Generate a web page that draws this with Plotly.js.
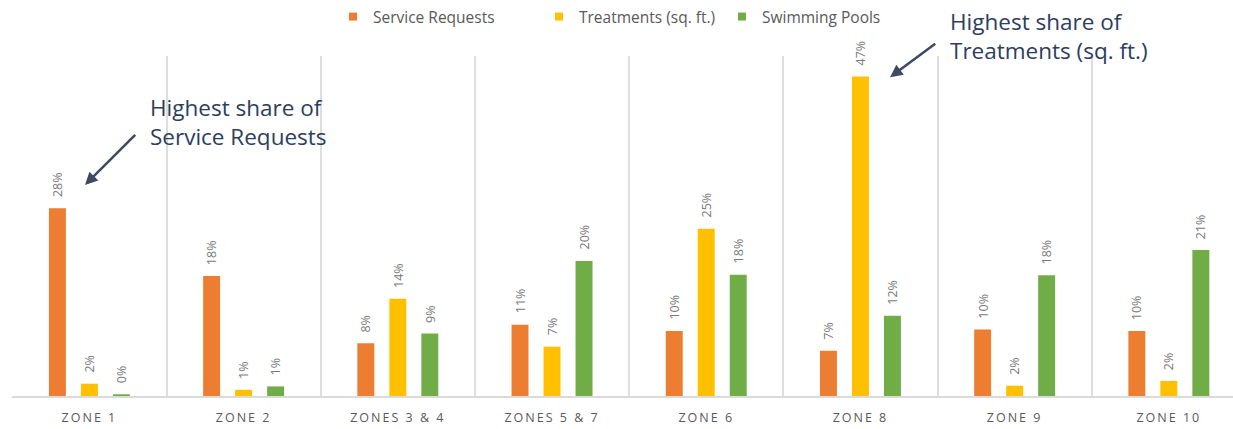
<!DOCTYPE html>
<html>
<head>
<meta charset="utf-8">
<script src="https://cdn.plot.ly/plotly-3.0.1.min.js"></script>
<style>
  html, body { margin: 0; padding: 0; background: #ffffff; }
  #chart { width: 1233px; height: 429px; }
  .xtick text { letter-spacing: 2px; }
</style>
</head>
<body>
<div id="chart"></div>
<script>
// ---- data ----
const zones = ["ZONE 1", "ZONE 2", "ZONES 3 & 4", "ZONES 5 & 7", "ZONE 6", "ZONE 8", "ZONE 9", "ZONE 10"];
const serviceRequests = [27.4, 17.5, 7.7, 10.4, 9.5, 6.6, 9.7, 9.5];
const treatments      = [1.8, 0.9, 14.2, 7.2, 24.4, 46.6, 1.5, 2.2];
const swimmingPools   = [0.25, 1.4, 9.1, 19.7, 17.7, 11.7, 17.6, 21.3];
const serviceLabels   = ["28%", "18%", "8%", "11%", "10%", "7%", "10%", "10%"];
const treatmentLabels = ["2%", "1%", "14%", "7%", "25%", "47%", "2%", "2%"];
const poolLabels      = ["0%", "1%", "9%", "20%", "18%", "12%", "18%", "21%"];
const seriesNames = ["Service Requests", "Treatments (sq. ft.)", "Swimming Pools"];
const seriesColors = ["#ED7D31", "#FFC000", "#70AD47"];

// ---- chart ----
const bargap = 0.3775;
const bargroupgap = 0.47;
const FONT = "Open Sans, sans-serif";
const values = [serviceRequests, treatments, swimmingPools];
const labels = [serviceLabels, treatmentLabels, poolLabels];
const legendIds = ["legend", "legend2", "legend3"];

const traces = [];
values.forEach((vals, k) => {
  traces.push({
    type: "bar", x: zones, y: vals, name: seriesNames[k],
    marker: { color: seriesColors[k] }, showlegend: false, hoverinfo: "skip"
  });
});
values.forEach((vals, k) => {
  traces.push({
    type: "scatter", mode: "markers", x: [null], y: [null], name: seriesNames[k],
    marker: { color: seriesColors[k], symbol: "square", size: 8 },
    legend: legendIds[k], showlegend: true
  });
});

const slot = (1 - bargap) / 3;
const annotations = [];
values.forEach((vals, k) => {
  vals.forEach((v, i) => {
    annotations.push({
      x: i + (k - 1) * slot, y: v, xref: "x", yref: "y",
      text: labels[k][i], showarrow: false, textangle: -90,
      xanchor: "center", yanchor: "bottom", yshift: 9,
      font: { family: FONT, size: 12.5, color: "#7a7a7a" }
    });
  });
});

const calloutFont = { family: FONT, size: 22.5, color: "#2d3e5e" };
annotations.push({
  xref: "paper", yref: "paper", x: 0.1114, y: 0.9, xanchor: "left", yanchor: "top",
  align: "left", showarrow: false, text: "Highest share of<br>Service Requests", font: calloutFont
});
annotations.push({
  xref: "paper", yref: "paper", x: 0.7666, y: 1.153, xanchor: "left", yanchor: "top",
  align: "left", showarrow: false, text: "Highest share of<br>Treatments (sq. ft.)", font: calloutFont
});
annotations.push({
  xref: "paper", yref: "paper", x: 0.0598, y: 0.6206, text: "", showarrow: true,
  ax: 51.7, ay: -51.7, arrowhead: 2, arrowsize: 1, arrowwidth: 2.5, arrowcolor: "#3d4a61", standoff: 0
});
annotations.push({
  xref: "paper", yref: "paper", x: 0.7191, y: 0.9374, text: "", showarrow: true,
  ax: 46.7, ay: -34.6, arrowhead: 2, arrowsize: 1, arrowwidth: 2.5, arrowcolor: "#3d4a61", standoff: 0
});

const legendBase = {
  orientation: "h", xref: "container", yref: "container", yanchor: "middle", xanchor: "left",
  y: 1 - 17 / 429, bgcolor: "rgba(0,0,0,0)",
  font: { family: FONT, size: 15.5, color: "#595959" }
};
const layout = {
  width: 1233, height: 429,
  margin: { l: 12, r: 0, t: 56, b: 33 },
  paper_bgcolor: "#ffffff", plot_bgcolor: "#ffffff",
  barmode: "group", bargap: bargap, bargroupgap: bargroupgap,
  font: { family: FONT },
  xaxis: {
    type: "category", range: [-0.502, 7.416], tickson: "boundaries",
    showgrid: true, gridcolor: "#dedede", gridwidth: 2,
    showline: true, linecolor: "#dadada", linewidth: 2,
    ticks: "", ticklabelstandoff: 9,
    tickfont: { family: FONT, size: 12.5, color: "#595959" },
    fixedrange: true
  },
  yaxis: {
    range: [0, 49.6], visible: false, showgrid: false, zeroline: false, fixedrange: true
  },
  legend: Object.assign({}, legendBase, { x: 333 / 1233 }),
  legend2: Object.assign({}, legendBase, { x: 539 / 1233 }),
  legend3: Object.assign({}, legendBase, { x: 722 / 1233 }),
  annotations: annotations
};

Plotly.newPlot("chart", traces, layout, { displayModeBar: false, staticPlot: true });
</script>
</body>
</html>
